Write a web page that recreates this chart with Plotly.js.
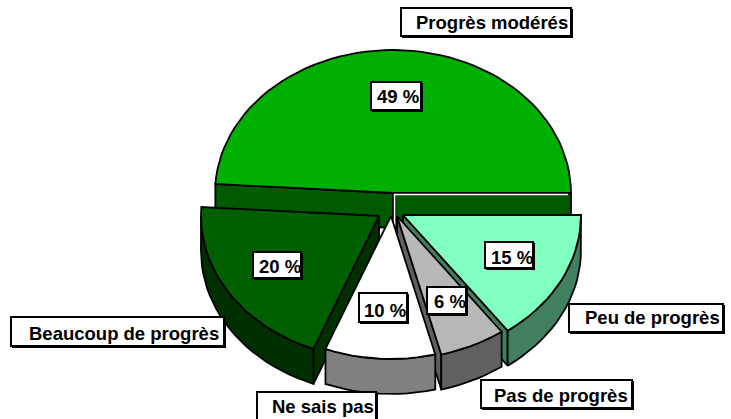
<!DOCTYPE html>
<html><head><meta charset="utf-8">
<script src="https://cdn.plot.ly/plotly-3.0.1.min.js"></script>
<style>html,body{margin:0;padding:0;background:#fff}</style></head>
<body><div id="chart" style="width:731px;height:419px"></div>
<script>
// Data
const categories = ['Progrès modérés','Beaucoup de progrès','Ne sais pas','Pas de progrès','Peu de progrès'];
const values = [49, 20, 10, 6, 15];
const valueLabels = ['49 %','20 %','10 %','6 %','15 %'];

// Styling and layout of the exploded 3D pie
const topColors = ['#00B000','#006000','#FFFFFF','#B8B8B8','#80FFC0'];
const wallColors = ['#005A00','#003000','#808080','#606060','#408060'];
const explode = [[393,193],[379,216],[391,216],[397,216],[403,215]];
const RX = 178, RY = 143, DEPTH = 35;
const catBoxes = [[401,8,573,38],[11,317,226,348],[257,392,378,426],[481,380,634,410],[569,304,725,334]];
const valBoxes = [[371,82,423,112],[253,252,303,280],[359,293,409,324],[427,287,468,316],[485,242,535,270]];
const catText = [[491.5,22],[123.5,333],[322.5,406],[560.5,395],[652,317]];
const valText = [[398,96],[280,266],[385,310],[450,301],[512,257]];

const total = values.reduce((a,b)=>a+b,0);
let acc = 0;
const ranges = values.map(v => { const a0 = acc; acc += v; return [a0/total*360, acc/total*360]; });
function pt(c, deg, dy){ const t = deg*Math.PI/180; return [c[0]+RX*Math.cos(t), c[1]-RY*Math.sin(t)+(dy||0)]; }
function arc(c,a0,a1,dy){ const n=Math.max(4,Math.round(Math.abs(a1-a0)/3)); const o=[]; for(let i=0;i<=n;i++) o.push(pt(c,a0+(a1-a0)*i/n,dy)); return o; }
function poly(points, fill, name){
  const p = points.concat([points[0]]);
  return {type:'scatter',mode:'lines',x:p.map(q=>q[0]),y:p.map(q=>q[1]),fill:'toself',fillcolor:fill,
    line:{color:'#000',width:1.8},hoverinfo:'text',text:name,showlegend:false};
}
const traces = [];
function slice(i){
  const c = explode[i], [a0,a1] = ranges[i], name = categories[i];
  const bottomC = [c[0],c[1]+DEPTH];
  const radial = (a)=>{const e=pt(c,a); return [c,e,[e[0],e[1]+DEPTH],bottomC];};
  if(i===0){ traces.push(poly(radial(a0),wallColors[i],name)); traces.push(poly(radial(a1),wallColors[i],name)); }
  if(i===1){ traces.push(poly(radial(a1),wallColors[i],name)); }
  if(i===3||i===4){ traces.push(poly(radial(a0),wallColors[i],name)); }
  const r0=Math.max(a0,180), r1=Math.min(a1,360);
  if(r1>r0){ traces.push(poly(arc(c,r0,r1).concat(arc(c,r1,r0,DEPTH)),wallColors[i],name)); }
  traces.push(poly([c].concat(arc(c,a0,a1)),topColors[i],name));
}
[0,1,4,3,2].forEach(slice);
// white hairline on the rear wall of the big slice
const wc = explode[0], we = pt(wc,ranges[0][0]);
traces.splice(3,0,{type:'scatter',mode:'lines',x:[wc[0]+1.5,wc[0]+1.5,we[0]-3],y:[wc[1]+DEPTH,wc[1]+1.5,wc[1]+1.5],line:{color:'#fff',width:1.4},hoverinfo:'skip',showlegend:false});

const shapes=[], annotations=[];
function label(box,pos,txt){
  shapes.push({type:'rect',layer:'above',xref:'x',yref:'y',x0:box[0]+1,y0:box[1]+1,x1:box[2],y1:box[3],fillcolor:'#000',line:{width:0}});
  shapes.push({type:'rect',layer:'above',xref:'x',yref:'y',x0:box[0],y0:box[1],x1:box[2]-2,y1:box[3]-2,fillcolor:'#fff',line:{color:'#000',width:2}});
  annotations.push({xref:'x',yref:'y',x:pos[0],y:pos[1],text:txt,showarrow:false,xanchor:'center',yanchor:'middle',
    font:{family:'Liberation Sans, Arial, sans-serif',size:18.5,color:'#000'}});
}
categories.forEach((c,i)=>label(catBoxes[i],catText[i],'<b>'+c+'</b>'));
valueLabels.forEach((c,i)=>label(valBoxes[i],valText[i],'<b>'+c+'</b>'));

Plotly.newPlot('chart',traces,{
  width:731,height:419,margin:{l:0,r:0,t:0,b:0},paper_bgcolor:'#fff',plot_bgcolor:'#fff',showlegend:false,
  xaxis:{range:[0,731],visible:false,fixedrange:true},
  yaxis:{range:[419,0],visible:false,fixedrange:true},
  shapes,annotations
},{displayModeBar:false,staticPlot:true});
</script></body></html>
